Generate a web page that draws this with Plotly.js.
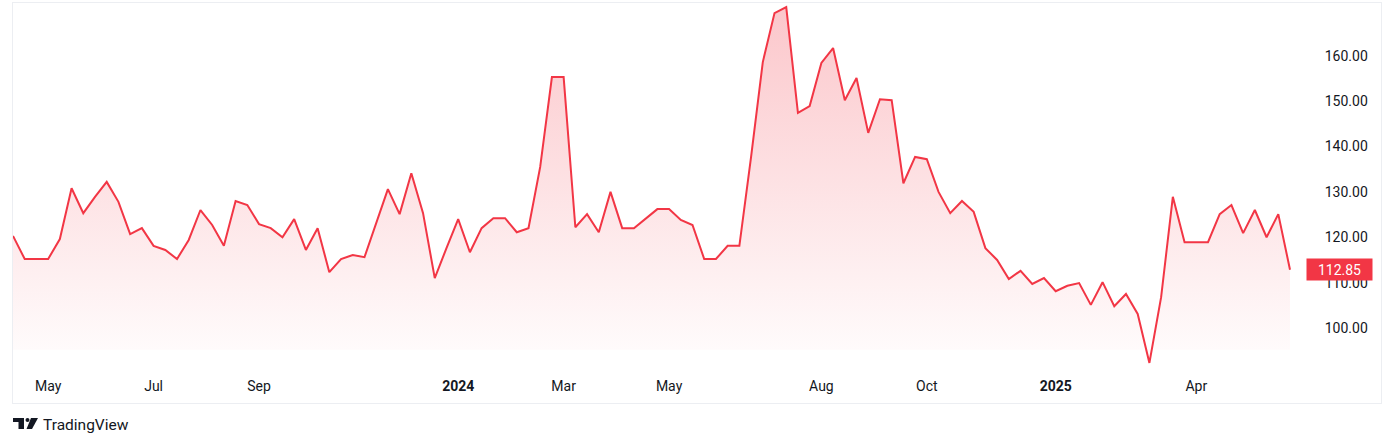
<!DOCTYPE html>
<html>
<head>
<meta charset="utf-8">
<script src="https://cdn.plot.ly/plotly-3.0.1.min.js"></script>
<style>
  html, body { margin: 0; padding: 0; background: #ffffff; }
  #chart { width: 1394px; height: 447px; }
</style>
</head>
<body>
<div id="chart"></div>
<script>
// Weekly closing values
const VALUES = [
  120.3, 115.2, 115.2, 115.2, 119.6, 130.8, 125.3, 128.9, 132.2, 127.8,
  120.7, 122.0, 118.1, 117.2, 115.2, 119.4, 126.0, 122.7, 118.1, 128.0,
  127.1, 122.9, 122.0, 120.0, 124.0, 117.2, 122.0, 112.3, 115.2, 116.1,
  115.6, 123.1, 130.6, 125.1, 134.1, 125.3, 111.0, 117.6, 124.0, 116.7,
  122.0, 124.2, 124.2, 121.1, 122.0, 135.5, 155.3, 155.3, 122.2, 125.1,
  121.1, 130.0, 122.0, 122.0, 124.2, 126.2, 126.2, 123.8, 122.7, 115.2,
  115.2, 118.1, 118.1, 137.7, 158.6, 169.4, 170.7, 147.4, 148.9, 158.4,
  161.7, 150.2, 155.1, 143.0, 150.4, 150.2, 131.9, 137.7, 137.2, 130.0,
  125.3, 128.0, 125.6, 117.6, 115.0, 110.8, 112.6, 109.7, 111.0, 108.1,
  109.3, 109.9, 105.1, 110.1, 104.8, 107.5, 103.1, 92.3, 106.8, 128.9,
  118.9, 118.9, 118.9, 125.1, 127.1, 120.9, 126.0, 120.0, 125.1, 112.85
];
const LAST_PRICE_LABEL = '112.85';

// Time-axis labels (bar index of first bar of each labelled month)
const X_TICK_INDEX  = [3, 12, 21, 38, 47, 56, 69, 78, 89, 101];
const X_TICK_LABELS = ['May', 'Jul', 'Sep', '<b>2024</b>', 'Mar', 'May', 'Aug', 'Oct', '<b>2025</b>', 'Apr'];

// Price-axis labels
const Y_TICKS = [100, 110, 120, 130, 140, 150, 160];

// Area fill base level
const FILL_BASE = 95.2;

const X = VALUES.map((_, i) => i);
const BASE = VALUES.map(() => FILL_BASE);
const YMAX = Math.max(...VALUES);

const FONT = 'Roboto, "Open Sans", "DejaVu Sans", sans-serif';
const TEXT = '#131722';
const RED = '#f23645';

// plot-area geometry (pixels) for decorative paper-coordinate items
const L = 13, T = 3, R = 1381, B = 403;
const px = v => (v - L) / (R - L);
const py = v => (B - v) / (B - T);

const traces = [
  {
    x: X, y: BASE, type: 'scatter', mode: 'lines',
    line: { width: 0, color: 'rgba(0,0,0,0)' },
    hoverinfo: 'skip', showlegend: false
  },
  {
    x: X, y: VALUES, type: 'scatter', mode: 'lines',
    line: { color: RED, width: 2 },
    fill: 'tonexty',
    fillgradient: {
      type: 'vertical',
      start: FILL_BASE,
      stop: YMAX,
      colorscale: [[0, 'rgba(242,54,69,0.02)'], [1, 'rgba(242,54,69,0.28)']]
    },
    showlegend: false
  }
];

const layout = {
  width: 1394, height: 447,
  margin: { l: L, r: 1394 - R, t: T, b: 447 - B, pad: 0 },
  paper_bgcolor: '#ffffff',
  plot_bgcolor: '#ffffff',
  font: { family: FONT, size: 14, color: TEXT },
  showlegend: false,
  xaxis: {
    range: [0, (R - L) / (1277 / 109)],
    tickmode: 'array',
    tickvals: X_TICK_INDEX,
    ticktext: X_TICK_LABELS,
    ticklabelposition: 'inside',
    ticks: 'inside', ticklen: 9, tickcolor: 'rgba(0,0,0,0)',
    showgrid: false, zeroline: false,
    showline: true, mirror: true, linecolor: '#eceef2', linewidth: 1,
    tickfont: { family: FONT, size: 14, color: TEXT },
    fixedrange: true
  },
  yaxis: {
    side: 'right',
    range: [100 - (B - 328) / 4.538, 100 + (328 - T) / 4.538],
    tickmode: 'array',
    tickvals: Y_TICKS,
    tickformat: '.2f',
    ticklabelposition: 'inside',
    ticks: 'inside', ticklen: 13, tickcolor: 'rgba(0,0,0,0)',
    showgrid: false, zeroline: false,
    showline: true, mirror: true, linecolor: '#eceef2', linewidth: 1,
    tickfont: { family: FONT, size: 14, color: TEXT },
    fixedrange: true
  },
  annotations: [
    {
      xref: 'paper', yref: 'y',
      x: px(1373), y: VALUES[VALUES.length - 1],
      xanchor: 'right', yanchor: 'middle',
      text: LAST_PRICE_LABEL,
      showarrow: false,
      bgcolor: RED,
      font: { family: FONT, size: 14, color: '#ffffff' },
      width: 59, height: 15, borderpad: 3
    },
    {
      xref: 'paper', yref: 'paper',
      x: px(41), y: py(425),
      xanchor: 'left', yanchor: 'middle',
      text: 'TradingView',
      showarrow: false,
      font: { family: FONT, size: 15.5, color: TEXT }
    }
  ],
  shapes: [
    { type: 'rect', xref: 'paper', yref: 'paper', x0: px(13), x1: px(24), y0: py(422), y1: py(418), fillcolor: TEXT, line: { width: 0 } },
    { type: 'rect', xref: 'paper', yref: 'paper', x0: px(18.5), x1: px(24), y0: py(429), y1: py(418), fillcolor: TEXT, line: { width: 0 } },
    { type: 'circle', xref: 'paper', yref: 'paper', x0: px(25.5), x1: px(29.5), y0: py(422), y1: py(418), fillcolor: TEXT, line: { width: 0 } },
    { type: 'path', xref: 'paper', yref: 'paper',
      path: 'M ' + px(31) + ',' + py(418) + ' L ' + px(38) + ',' + py(418) + ' L ' + px(32) + ',' + py(429) + ' L ' + px(26.5) + ',' + py(429) + ' Z',
      fillcolor: TEXT, line: { width: 0 } }
  ]
};

Plotly.newPlot('chart', traces, layout, { displayModeBar: false, staticPlot: true });
</script>
</body>
</html>
